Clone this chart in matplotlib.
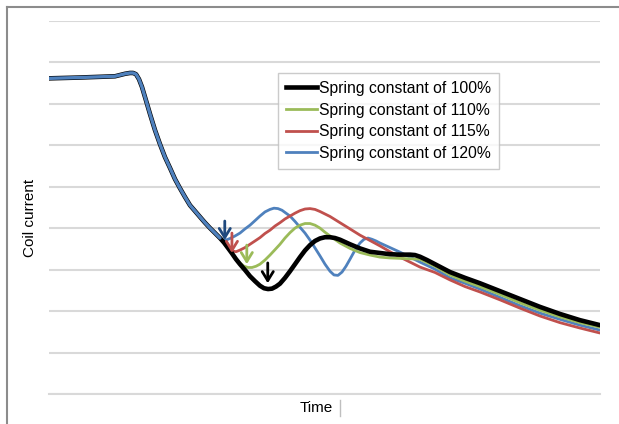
import matplotlib
matplotlib.use("Agg")
import matplotlib.pyplot as plt
from matplotlib.lines import Line2D

plt.rcParams['font.family'] = ['Liberation Sans', 'DejaVu Sans']

# ---- data (time in % of window, coil current in grid units) ----
common_t = [0.0, 5.63, 11.98, 12.89, 13.79, 14.70, 15.25, 15.79, 16.33, 16.88, 17.60, 18.33,
            19.24, 20.15, 21.05, 21.96, 22.87, 23.77, 24.68, 25.59, 26.50, 27.40, 28.31,
            29.22, 30.13, 31.03]
common_v = [7.61, 7.63, 7.66, 7.69, 7.72, 7.74, 7.74, 7.71, 7.59, 7.40, 7.08, 6.75,
            6.36, 6.02, 5.71, 5.45, 5.18, 4.96, 4.75, 4.55, 4.41, 4.27, 4.13,
            4.00, 3.88, 3.76]

t100 = [31.76, 32.49, 33.21, 33.94, 34.66, 35.57, 36.48, 37.39, 38.29, 39.02, 39.75, 40.47,
        41.20, 41.92, 42.83, 43.74, 44.65, 45.55, 46.46, 47.37, 48.28, 49.18, 50.09, 51.00,
        51.91, 52.81, 54.63, 56.44, 58.26, 60.07, 61.89, 63.70, 65.52, 66.42, 67.33, 68.60,
        70.05, 72.78, 75.50, 78.22, 81.85, 85.48, 89.11, 92.74, 96.37, 100.0]
v100 = [3.65, 3.52, 3.39, 3.25, 3.13, 2.99, 2.84, 2.72, 2.61, 2.55, 2.53, 2.54,
        2.59, 2.66, 2.80, 2.96, 3.13, 3.30, 3.46, 3.59, 3.69, 3.75, 3.78, 3.78,
        3.76, 3.72, 3.61, 3.51, 3.43, 3.40, 3.37, 3.36, 3.36, 3.35, 3.31, 3.23,
        3.13, 2.94, 2.80, 2.67, 2.48, 2.29, 2.10, 1.93, 1.78, 1.66]

t110 = [31.76, 32.49, 33.21, 33.94, 34.66, 35.39, 36.12, 36.84, 37.57, 38.29, 39.20, 40.11,
        41.02, 41.92, 42.83, 43.74, 44.65, 45.55, 46.46, 47.37, 48.28, 49.18, 50.09, 51.00,
        52.81, 54.63, 56.44, 58.26, 60.07, 61.89, 63.70, 65.52, 67.33, 70.05, 72.78, 75.50,
        78.22, 81.85, 85.48, 89.11, 92.74, 96.37, 100.0]
v110 = [3.65, 3.52, 3.39, 3.27, 3.16, 3.08, 3.05, 3.05, 3.08, 3.13, 3.23, 3.35,
        3.48, 3.61, 3.76, 3.89, 4.00, 4.07, 4.11, 4.11, 4.07, 4.00, 3.90, 3.81,
        3.64, 3.51, 3.41, 3.35, 3.30, 3.28, 3.27, 3.26, 3.25, 3.08, 2.87, 2.72,
        2.59, 2.40, 2.20, 2.02, 1.86, 1.72, 1.61]

t115 = [31.76, 32.49, 33.21, 33.94, 34.66, 35.57, 36.48, 37.39, 38.29, 39.20, 40.11, 41.02,
        41.92, 42.83, 43.74, 44.65, 45.55, 46.46, 47.37, 48.28, 49.18, 51.00, 52.81, 54.63,
        56.44, 58.26, 60.07, 61.89, 63.70, 65.52, 67.33, 70.05, 72.78, 75.50, 78.22, 81.85,
        85.48, 89.11, 92.74, 96.37, 100.0]
v115 = [3.66, 3.52, 3.45, 3.43, 3.47, 3.53, 3.61, 3.69, 3.77, 3.87, 3.95, 4.05,
        4.13, 4.22, 4.29, 4.36, 4.42, 4.46, 4.47, 4.45, 4.40, 4.28, 4.13, 3.98,
        3.83, 3.70, 3.57, 3.43, 3.30, 3.18, 3.06, 2.93, 2.75, 2.59, 2.46, 2.27,
        2.07, 1.88, 1.72, 1.59, 1.47]

t120 = [31.40, 31.76, 32.30, 32.85, 33.76, 34.66, 35.57, 36.48, 37.39, 38.29, 39.20, 40.11,
        40.83, 41.56, 42.29, 43.01, 43.74, 44.65, 45.55, 46.46, 47.37, 48.28, 49.18, 50.09,
        51.00, 51.72, 52.45, 53.18, 53.90, 54.63, 55.54, 56.44, 57.17, 57.89, 58.62, 59.35,
        60.07, 61.89, 63.70, 65.52, 67.33, 70.05, 72.78, 75.50, 78.22, 81.85, 85.48, 89.11,
        92.74, 96.37, 100.0]
v120 = [3.72, 3.71, 3.72, 3.75, 3.81, 3.88, 3.98, 4.07, 4.18, 4.29, 4.39, 4.45,
        4.48, 4.47, 4.43, 4.36, 4.29, 4.16, 4.02, 3.88, 3.71, 3.52, 3.33, 3.13,
        2.96, 2.87, 2.86, 2.94, 3.08, 3.25, 3.47, 3.64, 3.73, 3.76, 3.73, 3.69,
        3.64, 3.53, 3.42, 3.30, 3.18, 3.01, 2.80, 2.67, 2.53, 2.33, 2.13, 1.95,
        1.80, 1.66, 1.54]

labels = ["Spring constant of 100%", "Spring constant of 110%",
          "Spring constant of 115%", "Spring constant of 120%"]

# arrows marking the first minimum of each curve: (time, top, bottom)
arrow_t = [31.9, 33.2, 35.9, 39.7]
arrow_top = [4.17, 3.88, 3.59, 3.16]
arrow_bot = [3.71, 3.40, 3.13, 2.67]

colors = ["#000000", "#9BBB59", "#C0504D", "#4F81BD"]
arrow_colors = ["#1F497D", "#C0504D", "#9BBB59", "#000000"]
widths = [3.3, 2.0, 2.0, 2.0]

fig = plt.figure(figsize=(6.19, 4.24), dpi=100)
ax = fig.add_axes([49/619, 30/424, 551/619, 373.3/424])

series = [(t100, v100), (t110, v110), (t115, v115), (t120, v120)]
for (tt, vv), c, w in zip(series[::-1], colors[::-1], widths[::-1]):
    ax.plot(common_t + tt, common_v + vv, color=c, lw=w, solid_joinstyle='round',
            solid_capstyle='round')
ax.plot(common_t, common_v, color="#4F81BD", lw=2.4, solid_joinstyle='round',
        solid_capstyle='round')

for t, a, b, c in zip(arrow_t, arrow_top, arrow_bot, arrow_colors):
    ax.annotate("", xy=(t, b), xytext=(t, a),
                arrowprops=dict(arrowstyle="->,head_width=0.4,head_length=0.65",
                                color=c, lw=2.0, shrinkA=0, shrinkB=0))

ax.set_xlim(0, 100)
ax.set_ylim(0, 9)
ax.set_yticks(range(0, 10))
ax.set_xticks([])
ax.tick_params(axis='y', length=0, labelleft=False)
ax.grid(axis='y', color="#D9D9D9", lw=1.5)
ax.set_axisbelow(True)
for s in ["top", "right", "left"]:
    ax.spines[s].set_visible(False)
ax.spines["bottom"].set_color("#D9D9D9")
ax.spines["bottom"].set_linewidth(1.5)

handles = [Line2D([], [], color=c, lw=w) for c, w in zip(colors, widths)]
leg = fig.legend(handles, labels, loc="upper left",
                 bbox_to_anchor=(278/619, 1 - 73/424), fontsize=11.35,
                 frameon=True, fancybox=False, edgecolor="#BFBFBF",
                 handlelength=1.95, handletextpad=0.13, labelspacing=0.42,
                 borderpad=0.5, borderaxespad=0)
leg.get_frame().set_linewidth(1.0)

fig.text(30/619, 1 - 218/424, "Coil current", rotation=90, ha="center", va="center",
         fontsize=11)
fig.text(316/619, 1 - 408/424, "Time", ha="center", va="center", fontsize=11)
fig.add_artist(Line2D([340/619, 340/619], [1 - 400/424, 1 - 416/424], color="#BFBFBF", lw=1))

# outer frame (top and left edges only)
fig.add_artist(Line2D([7/619, 1.0], [1 - 7/424, 1 - 7/424], color="#8C8C8C", lw=1.5))
fig.add_artist(Line2D([7/619, 7/619], [1 - 7/424, 0.0], color="#8C8C8C", lw=1.5))

fig.savefig("out.png", dpi=100)
